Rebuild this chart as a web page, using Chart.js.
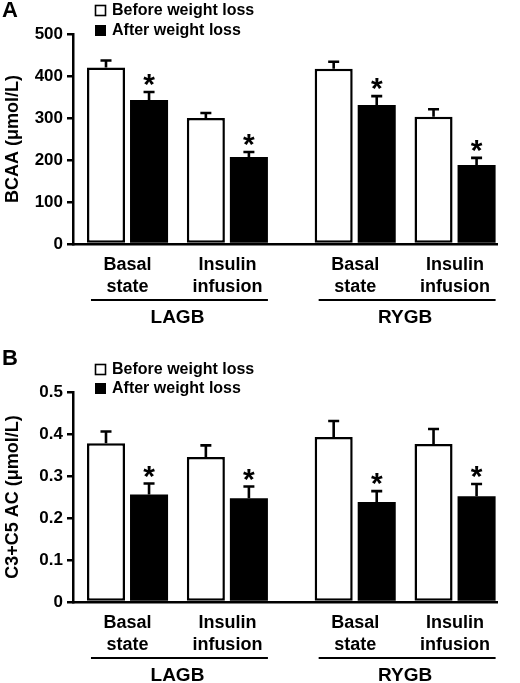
<!DOCTYPE html>
<html><head><meta charset="utf-8">
<script src="https://cdn.jsdelivr.net/npm/chart.js@4"></script>
<style>
html,body{margin:0;padding:0;background:#fff;}
#wrapA{position:absolute;left:0;top:0;width:520px;height:345px;}
#wrapB{position:absolute;left:0;top:345px;width:520px;height:338px;}
</style></head><body>
<div id="wrapA"><canvas id="cA"></canvas></div>
<div id="wrapB"><canvas id="cB"></canvas></div>
<script>
// ---- data ----
const surgeries = ['LAGB', 'RYGB'];
const conditions = [['Basal', 'state'], ['Insulin', 'infusion']];
const seriesNames = ['Before weight loss', 'After weight loss'];

const bcaaBefore    = [420, 300, 417, 303];
const bcaaBeforeErr = [17, 12, 17, 18];
const bcaaAfter     = [343, 207, 331, 188];
const bcaaAfterErr  = [19, 12, 21, 17];
const bcaaAfterSig  = [true, true, true, true];
const bcaaTickLabels = ['0', '100', '200', '300', '400', '500'];

const acBefore    = [0.378, 0.345, 0.393, 0.376];
const acBeforeErr = [0.028, 0.028, 0.038, 0.036];
const acAfter     = [0.256, 0.247, 0.238, 0.252];
const acAfterErr  = [0.026, 0.028, 0.026, 0.029];
const acAfterSig  = [true, true, true, true];
const acTickLabels = ['0', '0.1', '0.2', '0.3', '0.4', '0.5'];

// ---- layout helpers ----
const SURGERY_GAP = 2.28;
const groupPos = i => Math.floor(i / conditions.length) * SURGERY_GAP + (i % conditions.length);
const FONT = "'Liberation Sans', Arial, Helvetica, sans-serif";
Chart.defaults.font.family = FONT;
Chart.defaults.color = '#000';

const decor = {
  id: 'decor',
  afterDatasetsDraw(chart, args, o) {
    const ctx = chart.ctx, ys = chart.scales.y;
    ctx.save();
    ctx.strokeStyle = '#000';
    ctx.fillStyle = '#000';
    ctx.lineWidth = 2.6;
    o.errors.forEach((errArr, di) => {
      const meta = chart.getDatasetMeta(di);
      const vals = chart.data.datasets[di].data;
      meta.data.forEach((el, i) => {
        const top = ys.getPixelForValue(vals[i].y + errArr[i]);
        ctx.beginPath();
        ctx.moveTo(el.x, el.y);
        ctx.lineTo(el.x, top);
        ctx.moveTo(el.x - 5.5, top);
        ctx.lineTo(el.x + 5.5, top);
        ctx.stroke();
        if (o.sig[di] && o.sig[di][i]) {
          ctx.font = 'bold 30px ' + FONT;
          ctx.textAlign = 'center';
          ctx.textBaseline = 'alphabetic';
          ctx.fillText('*', el.x, top + 2);
        }
      });
    });
    ctx.restore();
  },
  afterDraw(chart, args, o) {
    const ctx = chart.ctx, area = chart.chartArea;
    ctx.save();
    ctx.fillStyle = '#000';
    ctx.strokeStyle = '#000';
    // panel letter
    ctx.font = 'bold 22px ' + FONT;
    ctx.textAlign = 'left';
    ctx.textBaseline = 'alphabetic';
    ctx.fillText(o.letter, 2, o.letterY);
    // legend
    ctx.font = 'bold 16px ' + FONT;
    seriesNames.forEach((name, i) => {
      const by = o.legendY[i];
      if (i === 0) {
        ctx.lineWidth = 1.6;
        ctx.fillStyle = '#fff';
        ctx.fillRect(95.5, by - 9.5, 10, 10);
        ctx.strokeRect(95.5, by - 9.5, 10, 10);
      } else {
        ctx.fillStyle = '#000';
        ctx.fillRect(95, by - 10, 11, 11);
      }
      ctx.fillStyle = '#000';
      ctx.fillText(name, 112, by);
    });
    // group underline + labels
    const m0 = chart.getDatasetMeta(0), m1 = chart.getDatasetMeta(1);
    const n = conditions.length;
    ctx.lineWidth = 2;
    ctx.font = 'bold 19px ' + FONT;
    ctx.textAlign = 'center';
    ctx.textBaseline = 'middle';
    surgeries.forEach((s, si) => {
      const a = m0.data[si * n], b = m1.data[si * n + n - 1];
      const left = a.x - a.width / 2 + 4;
      const right = b.x + b.width / 2;
      const ly = area.bottom + 56;
      ctx.beginPath();
      ctx.moveTo(left, ly);
      ctx.lineTo(right, ly);
      ctx.stroke();
      ctx.fillText(s, (left + right) / 2 - 2, ly + 18);
    });
    ctx.restore();
  }
};

function makeChart(id, p) {
  const tickVals = p.tickLabels.map(Number);
  return new Chart(document.getElementById(id), {
    type: 'bar',
    data: {
      datasets: [
        { label: seriesNames[0], data: p.before.map((v, i) => ({ x: groupPos(i), y: v })),
          backgroundColor: '#fff', borderColor: '#000', borderWidth: 2.5, borderSkipped: false },
        { label: seriesNames[1], data: p.after.map((v, i) => ({ x: groupPos(i), y: v })),
          backgroundColor: '#000', borderColor: '#000', borderWidth: 0, borderSkipped: false }
      ]
    },
    options: {
      responsive: true,
      maintainAspectRatio: false,
      animation: false,
      events: [],
      categoryPercentage: 0.862,
      barPercentage: 0.884,
      layout: { padding: p.padding },
      plugins: {
        legend: { display: false },
        tooltip: { enabled: false },
        decor: { errors: [p.beforeErr, p.afterErr], sig: [null, p.sig], letter: p.letter, letterY: p.letterY, legendY: p.legendY }
      },
      scales: {
        x: {
          type: 'linear',
          min: -0.546,
          max: 3.70,
          offset: false,
          grid: { display: false, drawTicks: false },
          border: { display: true, color: '#000', width: 2.5 },
          afterBuildTicks: s => { s.ticks = p.before.map((v, i) => ({ value: groupPos(i) })); },
          afterFit: s => { s.height = 60; },
          ticks: {
            autoSkip: false, maxRotation: 0, minRotation: 0, padding: 10,
            font: { size: 18, weight: 'bold', lineHeight: 1.22 },
            color: '#000',
            callback: (v, i) => conditions[i % conditions.length]
          }
        },
        y: {
          min: tickVals[0],
          max: tickVals[tickVals.length - 1],
          afterBuildTicks: s => { s.ticks = tickVals.map(v => ({ value: v })); },
          afterFit: s => { s.width = 73; },
          grid: { display: true, drawOnChartArea: false, drawTicks: true, tickLength: 6, color: '#000', lineWidth: 2.5 },
          border: { display: true, color: '#000', width: 2.5 },
          ticks: {
            padding: 4,
            font: { size: 17, weight: 'bold' },
            color: '#000',
            callback: (v, i) => p.tickLabels[i]
          },
          title: {
            display: true,
            text: p.title,
            font: { size: 18, weight: 'bold' },
            color: '#000',
            padding: { top: 2, bottom: 0 }
          }
        }
      }
    },
    plugins: [decor]
  });
}

makeChart('cA', {
  letter: 'A', letterY: 17, legendY: [15, 35],
  title: 'BCAA (μmol/L)',
  before: bcaaBefore, beforeErr: bcaaBeforeErr,
  after: bcaaAfter, afterErr: bcaaAfterErr, sig: bcaaAfterSig,
  tickLabels: bcaaTickLabels,
  padding: { top: 34, left: 0, right: 23, bottom: 41 }
});
makeChart('cB', {
  letter: 'B', letterY: 20, legendY: [29, 48],
  title: 'C3+C5 AC (μmol/L)',
  before: acBefore, beforeErr: acBeforeErr,
  after: acAfter, afterErr: acAfterErr, sig: acAfterSig,
  tickLabels: acTickLabels,
  padding: { top: 47, left: 0, right: 23, bottom: 21 }
});
</script>
</body></html>
